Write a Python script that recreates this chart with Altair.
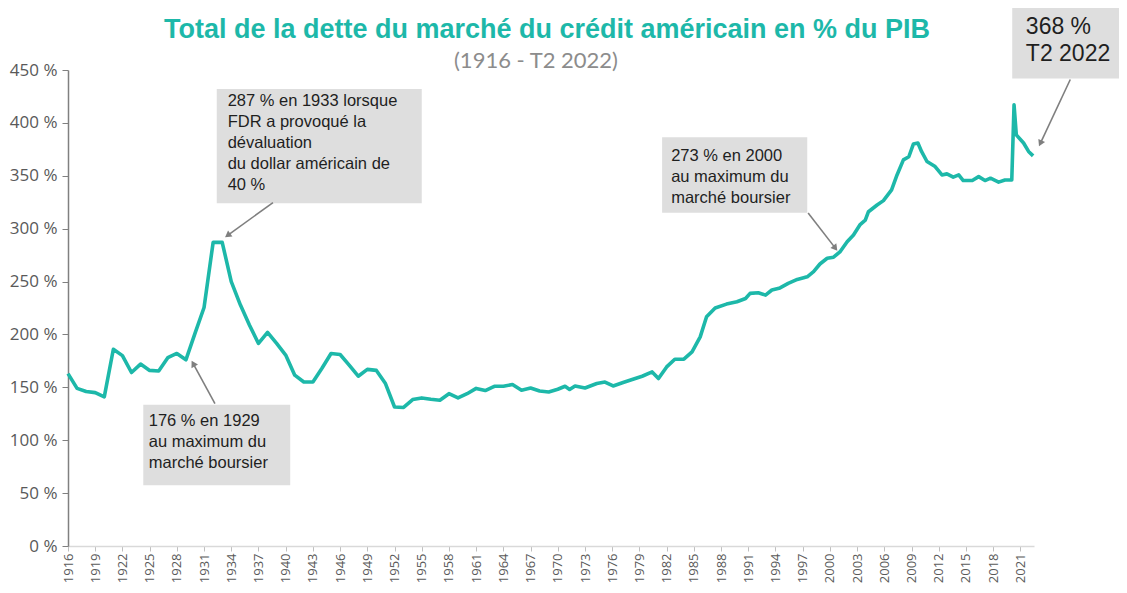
import altair as alt
import pandas as pd

# ---- series ----
years = [1916, 1917, 1918, 1919, 1920, 1921, 1922, 1923, 1924, 1925, 1926, 1927, 1928, 1929,
         1930, 1931, 1932, 1933, 1934, 1935, 1936, 1937, 1938, 1939, 1940, 1941, 1942, 1943,
         1944, 1945, 1946, 1947, 1948, 1949, 1950, 1951, 1952, 1953, 1954, 1955, 1956, 1957,
         1958, 1959, 1960, 1961, 1962, 1963, 1964, 1965, 1966, 1967, 1968, 1969, 1970, 1970.8,
         1971.3, 1971.9, 1973, 1974.3, 1975.2, 1976.1, 1977.2, 1978.2, 1979.3, 1980.4, 1981.1,
         1982.0, 1982.9, 1983.9, 1984.8, 1985.7, 1986.4, 1987.35, 1988.6, 1989.75, 1990.7,
         1991.2, 1992.1, 1992.9, 1993.6, 1994.5, 1995.4, 1996.4, 1997.5, 1998.2, 1998.9,
         1999.7, 2000.4, 2001.1, 2001.9, 2002.6, 2003.3, 2003.9, 2004.25, 2005.2, 2005.9,
         2006.8, 2007.4, 2008.1, 2008.7, 2009.2, 2009.7, 2010.1, 2010.7, 2011.6, 2012.35,
         2012.9, 2013.6, 2014.2, 2014.7, 2015.7, 2016.4, 2017.1, 2017.7, 2018.6, 2019.3,
         2020.05, 2020.3, 2020.55, 2021.35, 2021.9, 2022.4]
values = [163, 149, 146, 145, 141, 186, 180, 164, 172, 166, 165.5, 178, 182, 176,
          201, 225.5, 287, 287, 250, 228, 209, 191.5, 202, 191.5, 180.5, 161.5, 155, 155,
          168, 182, 181, 171, 160.5, 167, 166, 153.6, 131.4, 131, 138.4, 140, 138.7, 137.8,
          144, 140, 144, 149, 147, 151, 151, 152.7, 147.3, 149.4, 146.5, 145.6, 148.2, 151,
          148, 151.3, 149.4, 153.6, 155, 151.3, 154.5, 157.4, 160.5, 164.6, 158.3,
          169.3, 176.6, 176.6, 183.5, 197.7, 216.7, 225, 228.7, 230.9, 234,
          238.8, 239.4, 237.2, 242, 244, 248.3, 252, 254.5, 259.3, 266.6,
          272, 273, 278, 287.7, 294, 303.5, 308, 316, 322.4, 326.5,
          336.6, 350.8, 365, 368, 380, 381, 373, 363.5, 358.7, 350.8,
          351.8, 348.7, 350.8, 345.5, 345.5, 349.2, 345.5, 347.7, 344, 346,
          346, 417, 388.7, 381, 373, 368.8]

tick_years = list(range(1916, 2022, 3))
y_ticks = list(range(0, 451, 50))

title_text = "Total de la dette du marché du crédit américain en % du PIB"
subtitle_text = "(1916 - T2 2022)"

# ---- annotations (in data units) ----
box_x1 = [1932.4, 1924.3, 1981.5, 2020.1]
box_x2 = [1955.0, 1940.5, 1997.5, 2033.0]
box_top = [432, 133.5, 386.5, 520]
box_bottom = [324, 57.5, 315, 442]

note_x = [1933.6, 1924.9, 1982.5]
note_y = [428, 126, 376]
note_text = [
    "287 % en 1933 lorsque\nFDR a provoqué la\ndévaluation\ndu dollar américain de\n40 %",
    "176 % en 1929\nau maximum du\nmarché boursier",
    "273 % en 2000\nau maximum du\nmarché boursier",
]
big_note_x = [2021.6]
big_note_y = [501]
big_note_text = ["368 %\nT2 2022"]

arr_x1 = [1938.6, 1932.2, 1997.6, 2026.5]
arr_y1 = [324.7, 134.7, 314.8, 441]
arr_x2 = [1933.6, 1929.8, 2000.6, 2023.2]
arr_y2 = [293.6, 172.5, 281.6, 380.6]
arr_angle = [234, 331, 142, 205]

df = pd.DataFrame({"year": years, "value": values})
boxes = pd.DataFrame({"x1": box_x1, "x2": box_x2, "y1": box_top, "y2": box_bottom})
notes = pd.DataFrame({"x": note_x, "y": note_y, "t": note_text})
big = pd.DataFrame({"x": big_note_x, "y": big_note_y, "t": big_note_text})
arrows = pd.DataFrame({"x1": arr_x1, "y1": arr_y1, "x2": arr_x2, "y2": arr_y2, "a": arr_angle})
titles = pd.DataFrame({"t": [title_text]})
subtitles = pd.DataFrame({"t": [subtitle_text]})

TEAL = "#1DB8A9"
GRAY_TXT = "#595959"

X_AXIS = alt.Axis(values=tick_years, format="d", labelAngle=270, title=None,
                  grid=False, domainColor="#D9D9D9", domainWidth=1.5,
                  tickColor="#BFBFBF", tickSize=5, labelColor=GRAY_TXT,
                  labelFont="Open Sans", labelFontSize=13, labelPadding=2,
                  labelBaseline="middle", labelAlign="right",
                  labelOverlap=False, labelFlush=False)
Y_AXIS = alt.Axis(values=y_ticks, labelExpr="datum.value + ' %'", title=None,
                  grid=False, domainColor="#808080", domainWidth=1.5,
                  tickColor="#808080", tickSize=6, labelColor=GRAY_TXT,
                  labelFont="Open Sans", labelFontSize=17, labelPadding=5,
                  labelOverlap=False, labelFlush=False)
X_SCALE = alt.Scale(domain=[1916, 2022.5], nice=False, zero=False)
Y_SCALE = alt.Scale(domain=[0, 450], nice=False)


def xe(f):
    return alt.X(f, scale=X_SCALE, axis=X_AXIS, title=None)


def ye(f):
    return alt.Y(f, scale=Y_SCALE, axis=Y_AXIS, title=None)


line = alt.Chart(df).mark_line(color=TEAL, strokeWidth=3.6, strokeJoin="round").encode(
    x=xe("year:Q"), y=ye("value:Q"),
)

rects = alt.Chart(boxes).mark_rect(fill="#DEDEDE").encode(
    x=xe("x1:Q"), x2=alt.X2("x2:Q", title=None),
    y=ye("y1:Q"), y2=alt.Y2("y2:Q", title=None),
)

texts = alt.Chart(notes).mark_text(
    align="left", baseline="top", lineBreak="\n", lineHeight=21,
    font="Liberation Sans", fontSize=16.5, color="#1F1F1F"
).encode(x=xe("x:Q"), y=ye("y:Q"), text="t:N")

big_text = alt.Chart(big).mark_text(
    align="left", baseline="top", lineBreak="\n", lineHeight=27,
    font="Liberation Sans", fontSize=23, color="#1F1F1F"
).encode(x=xe("x:Q"), y=ye("y:Q"), text="t:N")

rules = alt.Chart(arrows).mark_rule(color="#7F7F7F", strokeWidth=1.6).encode(
    x=xe("x1:Q"), y=ye("y1:Q"),
    x2=alt.X2("x2:Q", title=None), y2=alt.Y2("y2:Q", title=None),
)

heads = alt.Chart(arrows).mark_point(shape="triangle-up", filled=True, size=55,
                                      color="#7F7F7F", opacity=1).encode(
    x=xe("x2:Q"), y=ye("y2:Q"),
    angle=alt.Angle("a:Q", scale=None),
)

title_mark = alt.Chart(titles).mark_text(
    font="Liberation Sans", fontSize=27, fontWeight="bold", color=TEAL,
    align="center", baseline="middle"
).encode(x=alt.value(479), y=alt.value(-40), text="t:N")

subtitle_mark = alt.Chart(subtitles).mark_text(
    font="Lato", fontSize=22, color="#8C8C8C", align="center", baseline="middle"
).encode(x=alt.value(468), y=alt.value(-9), text="t:N")

chart = alt.layer(line, rects, texts, big_text, rules, heads, title_mark, subtitle_mark).properties(
    width=966, height=476,
    autosize=alt.AutoSizeParams(type="none"),
    padding={"left": 60, "top": 62, "right": 85, "bottom": 39},
    background="white",
).configure_view(stroke=None).configure_axis(
    labelOverlap=False, labelFont="Open Sans", labelColor=GRAY_TXT
).configure_axisX(labelFontSize=13).configure_axisY(labelFontSize=17)

chart.save("out.html", embed_options={"renderer": "svg", "actions": False})
